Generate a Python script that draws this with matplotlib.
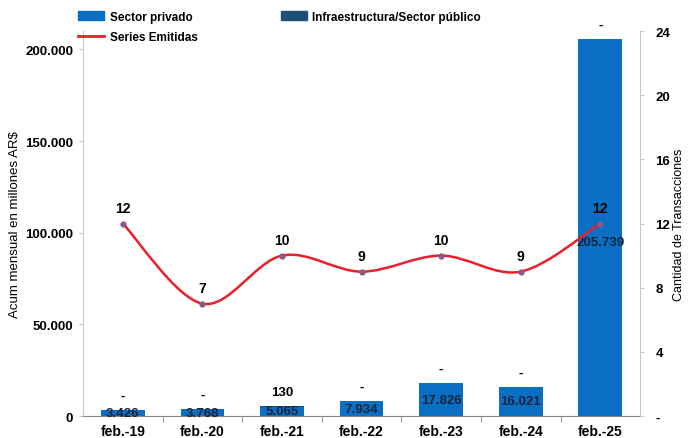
#!/usr/bin/env python3
import matplotlib
matplotlib.use('Agg')
import matplotlib.pyplot as plt
from matplotlib.path import Path
from matplotlib.patches import PathPatch
from matplotlib.lines import Line2D
from matplotlib.ticker import FuncFormatter

plt.rcParams['font.family'] = ['Liberation Sans', 'DejaVu Sans']

CATEGORIES = ['feb.-19', 'feb.-20', 'feb.-21', 'feb.-22', 'feb.-23', 'feb.-24', 'feb.-25']
SECTOR_PRIVADO = [3426, 3768, 5065, 7934, 17826, 16021, 205739]
INFRA_PUBLICO = [0, 0, 130, 0, 0, 0, 0]
SERIES_EMITIDAS = [12, 7, 10, 9, 10, 9, 12]

BLUE = '#0a6fc2'
NAVY = '#1f4e79'
RED = '#e8202a'
SPINE = '#c8c8c8'


def thousands(v, pos=None):
    if v == 0:
        return '0'
    return f'{v:,.0f}'.replace(',', '.')


def smooth_path(xs, ys):
    # cubic bezier through every point (like Excel's smoothed line)
    pts = list(zip(xs, ys))
    verts = [pts[0]]
    codes = [Path.MOVETO]
    n = len(pts)
    for i in range(n - 1):
        p0 = pts[i - 1] if i > 0 else pts[i]
        p1 = pts[i]
        p2 = pts[i + 1]
        p3 = pts[i + 2] if i + 2 < n else pts[i + 1]
        c1 = (p1[0] + (p2[0] - p0[0]) / 6, p1[1] + (p2[1] - p0[1]) / 6)
        c2 = (p2[0] - (p3[0] - p1[0]) / 6, p2[1] - (p3[1] - p1[1]) / 6)
        verts += [c1, c2, p2]
        codes += [Path.CURVE4] * 3
    return Path(verts, codes)


def main():
    fig = plt.figure(figsize=(6.89, 4.39), dpi=100)
    ax = fig.add_axes([0.1205, 0.0501, 0.8085, 0.877])
    x = list(range(len(CATEGORIES)))

    ax.bar(x, SECTOR_PRIVADO, width=0.55, color=BLUE, zorder=2)
    ax.bar(x, INFRA_PUBLICO, width=0.55, bottom=SECTOR_PRIVADO, color=NAVY, zorder=2)

    ax.set_xlim(-0.5, len(CATEGORIES) - 0.5)
    ax.set_ylim(0, 210000)
    ax.set_yticks([0, 50000, 100000, 150000, 200000])
    ax.yaxis.set_major_formatter(FuncFormatter(thousands))
    ax.set_xticks(x)
    ax.set_xticklabels(CATEGORIES, fontsize=10, fontweight='bold')
    ax.set_xticks([i + 0.5 for i in x[:-1]], minor=True)
    ax.tick_params(axis='x', which='major', length=0, pad=6)
    ax.tick_params(axis='x', which='minor', length=4, color='#888888')
    ax.tick_params(axis='y', length=3, color=SPINE, labelsize=9.5, pad=4)
    for lbl in ax.get_yticklabels():
        lbl.set_fontweight('bold')
    ax.spines['top'].set_visible(False)
    ax.spines['right'].set_visible(False)
    ax.spines['left'].set_color(SPINE)
    ax.spines['bottom'].set_color('#888888')
    ax.set_ylabel('Acum mensual en millones AR$', fontsize=9.5, labelpad=3)

    # bar value labels
    for i, v in enumerate(SECTOR_PRIVADO):
        ypos = v / 2 if v < 100000 else v * 0.46
        ax.text(i, ypos, thousands(v), ha='center', va='center',
                fontsize=9.5, fontweight='bold', color='#15233f', zorder=5)
    for i, (v, w) in enumerate(zip(SECTOR_PRIVADO, INFRA_PUBLICO)):
        txt = '-' if w == 0 else str(w)
        ax.annotate(txt, (i, v + w), xytext=(0, 6), textcoords='offset points',
                    ha='center', va='bottom', fontsize=9.5, fontweight='bold', zorder=5)

    ax2 = ax.twinx()
    ax2.set_ylim(0, 24)
    ax2.set_yticks([0, 4, 8, 12, 16, 20, 24])
    ax2.yaxis.set_major_formatter(FuncFormatter(lambda v, p: '-' if v == 0 else f'{v:.0f}'))
    ax2.tick_params(axis='y', length=3, color=SPINE, labelsize=9.5, pad=8)
    for lbl in ax2.get_yticklabels():
        lbl.set_fontweight('bold')
    for s in ['top', 'left', 'bottom']:
        ax2.spines[s].set_visible(False)
    ax2.spines['right'].set_color(SPINE)
    ax2.set_ylabel('Cantidad de Transacciones', fontsize=9, labelpad=2)

    ax2.add_patch(PathPatch(smooth_path(x, SERIES_EMITIDAS), fill=False,
                            edgecolor=RED, lw=1.8, zorder=3))
    ax2.plot(x, SERIES_EMITIDAS, linestyle='none', marker='o', markersize=3.5,
             color='#8a5a86', zorder=4)
    for i, v in enumerate(SERIES_EMITIDAS):
        ax2.annotate(str(v), (i, v), xytext=(0, 6), textcoords='offset points',
                     ha='center', va='bottom', fontsize=10, fontweight='bold', zorder=5)

    handles = [
        plt.Rectangle((0, 0), 1, 1, color=BLUE),
        Line2D([0], [0], color=RED, lw=2),
        plt.Rectangle((0, 0), 1, 1, color=NAVY),
    ]
    labels = ['Sector privado', 'Series Emitidas', 'Infraestructura/Sector público']
    fig.legend(handles, labels, loc='upper left', bbox_to_anchor=(0.098, 0.998),
               ncol=2, frameon=False, prop={'size': 8.5, 'weight': 'bold'},
               handlelength=2.2, handletextpad=0.5, columnspacing=7.0,
               labelspacing=0.75)

    fig.savefig('out.png', dpi=100)


if __name__ == '__main__':
    main()
